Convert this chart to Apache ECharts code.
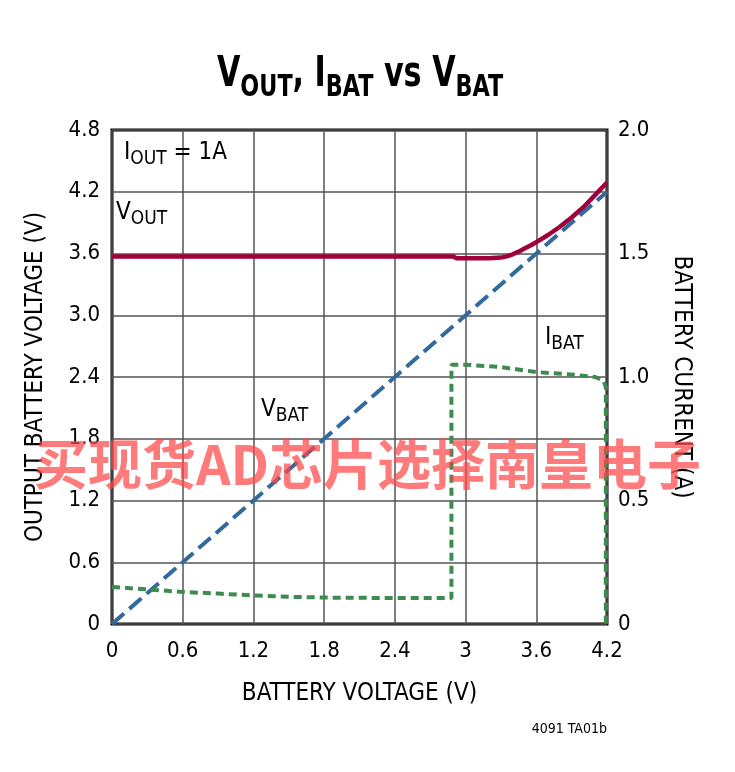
<!DOCTYPE html>
<html>
<head>
<meta charset="utf-8">
<script src="https://cdn.jsdelivr.net/npm/echarts@6/dist/echarts.min.js"></script>
<style>html,body{margin:0;padding:0;background:#fff}#c{width:735px;height:772px}</style>
</head>
<body>
<div id="c"></div>
<script>
// ---- data ----
const xTickLabels = ['0','0.6','1.2','1.8','2.4','3','3.6','4.2'];
const leftTickLabels = ['0','0.6','1.2','1.8','2.4','3.0','3.6','4.2','4.8'];
const rightTickLabels = ['0','0.5','1.0','1.5','2.0'];

const voutX = [0, 1.0, 2.0, 2.9, 2.92, 3.2, 3.3, 3.35, 3.4, 3.45, 3.5, 3.55, 3.6, 3.7, 3.8, 3.9, 4.0, 4.1, 4.2];
const voutY = [3.57, 3.57, 3.57, 3.57, 3.555, 3.555, 3.56, 3.572, 3.592, 3.618, 3.648, 3.678, 3.71, 3.78, 3.86, 3.95, 4.05, 4.17, 4.29];

const vbatX = [0, 4.2];
const vbatY = [0, 4.2];

const ibatX = [0, 0.3, 0.6, 0.9, 1.2, 1.5, 1.8, 2.4, 2.88, 2.88, 3.0, 3.3, 3.6, 3.9, 4.1, 4.17, 4.19, 4.19];
const ibatY = [0.15, 0.14, 0.13, 0.123, 0.116, 0.11, 0.107, 0.105, 0.105, 1.05, 1.05, 1.04, 1.02, 1.01, 1.0, 0.985, 0.96, 0.0];

const zip = (xs, ys) => xs.map((x, i) => [x, ys[i]]);

const FONT = "'DejaVu Sans Condensed', 'Liberation Sans Narrow', sans-serif";
const chart = echarts.init(document.getElementById('c'));

const mainRich = (size, subSize, drop) => ({
  m: { fontFamily: FONT, fontSize: size, lineHeight: size, color: '#000', verticalAlign: 'bottom', padding: [0, 0, drop, 0] },
  s: { fontFamily: FONT, fontSize: subSize, lineHeight: subSize, color: '#000', verticalAlign: 'bottom' }
});

const option = {
  animation: false,
  grid: { left: 112, right: 128, top: 130, bottom: 148, show: true, borderColor: '#000', borderWidth: 3, backgroundColor: 'transparent', containLabel: false },
  xAxis: {
    type: 'value', min: 0, max: 4.2, interval: 0.6,
    name: 'BATTERY VOLTAGE (V)', nameLocation: 'middle', nameGap: 58,
    nameTextStyle: { fontFamily: FONT, fontSize: 24, color: '#000' },
    axisLine: { show: false },
    axisTick: { show: false },
    axisLabel: { fontFamily: FONT, fontSize: 22, color: '#000', margin: 16,
      formatter: v => xTickLabels[Math.round(v / 0.6)] },
    splitLine: { show: true, lineStyle: { color: '#555', width: 1.5 } }
  },
  yAxis: [
    {
      type: 'value', min: 0, max: 4.8, interval: 0.6, position: 'left',
      name: 'OUTPUT BATTERY VOLTAGE (V)', nameLocation: 'middle', nameGap: 64,
      nameTextStyle: { fontFamily: FONT, fontSize: 24, color: '#000' },
      axisLine: { show: false }, axisTick: { show: false },
      axisLabel: { fontFamily: FONT, fontSize: 22, color: '#000', margin: 12,
        formatter: v => leftTickLabels[Math.round(v / 0.6)] },
      splitLine: { show: true, lineStyle: { color: '#555', width: 1.5 } }
    },
    {
      type: 'value', min: 0, max: 2, interval: 0.5, position: 'right',
      name: 'BATTERY CURRENT (A)', nameLocation: 'middle', nameGap: 62, nameRotate: -90,
      nameTextStyle: { fontFamily: FONT, fontSize: 24, color: '#000' },
      axisLine: { show: false }, axisTick: { show: false },
      axisLabel: { fontFamily: FONT, fontSize: 22, color: '#000', margin: 11,
        formatter: v => rightTickLabels[Math.round(v / 0.5)] },
      splitLine: { show: false }
    }
  ],
  series: [
    {
      name: 'VOUT', type: 'line', yAxisIndex: 0, data: zip(voutX, voutY),
      showSymbol: false, smooth: false, z: 3,
      lineStyle: { color: '#a0003c', width: 4.5, join: 'round' }
    },
    {
      name: 'VBAT', type: 'line', yAxisIndex: 0, data: zip(vbatX, vbatY),
      showSymbol: false, z: 4,
      lineStyle: { color: '#336a9e', width: 4, type: [16, 7] }
    },
    {
      name: 'IBAT', type: 'line', yAxisIndex: 1, data: zip(ibatX, ibatY),
      showSymbol: false, z: 4,
      lineStyle: { color: '#3d8b4f', width: 4, type: [8, 5] }
    }
  ],
  graphic: [
    { type: 'text', x: 360, y: 61, scaleX: 0.8, z: 10,
      style: { align: 'center', text: '{m|V}{s|OUT}{m|, I}{s|BAT}{m| vs V}{s|BAT}',
        rich: {
          m: { fontFamily: FONT, fontSize: 42, fontWeight: 'bold', lineHeight: 42, fill: '#000', verticalAlign: 'bottom', padding: [0, 0, 7, 0] },
          s: { fontFamily: FONT, fontSize: 31, fontWeight: 'bold', lineHeight: 31, fill: '#000', verticalAlign: 'bottom' }
        } } },
    { type: 'text', left: 124, top: 141, z: 10,
      style: { text: '{m|I}{s|OUT}{m| = 1A}', rich: mainRich(24, 19, 4) } },
    { type: 'text', left: 116, top: 201, z: 10,
      style: { text: '{m|V}{s|OUT}', rich: mainRich(24, 19, 4) } },
    { type: 'text', left: 261, top: 398, z: 10,
      style: { text: '{m|V}{s|BAT}', rich: mainRich(24, 19, 4) } },
    { type: 'text', left: 545, top: 326, z: 10,
      style: { text: '{m|I}{s|BAT}', rich: mainRich(24, 19, 4) } },
    { type: 'text', right: 128, top: 722, z: 10,
      style: { text: '4091 TA01b', fontFamily: FONT, fontSize: 14, fill: '#000' } },
    { type: 'text', left: 'center', top: 437, z: 100,
      style: { text: '买现货AD芯片选择南皇电子', fontFamily: "'Noto Sans CJK SC', sans-serif", fontWeight: 'bold', fontSize: 54, fill: 'rgba(255,70,70,0.72)' } }
  ]
};
chart.setOption(option);
</script>
</body>
</html>
